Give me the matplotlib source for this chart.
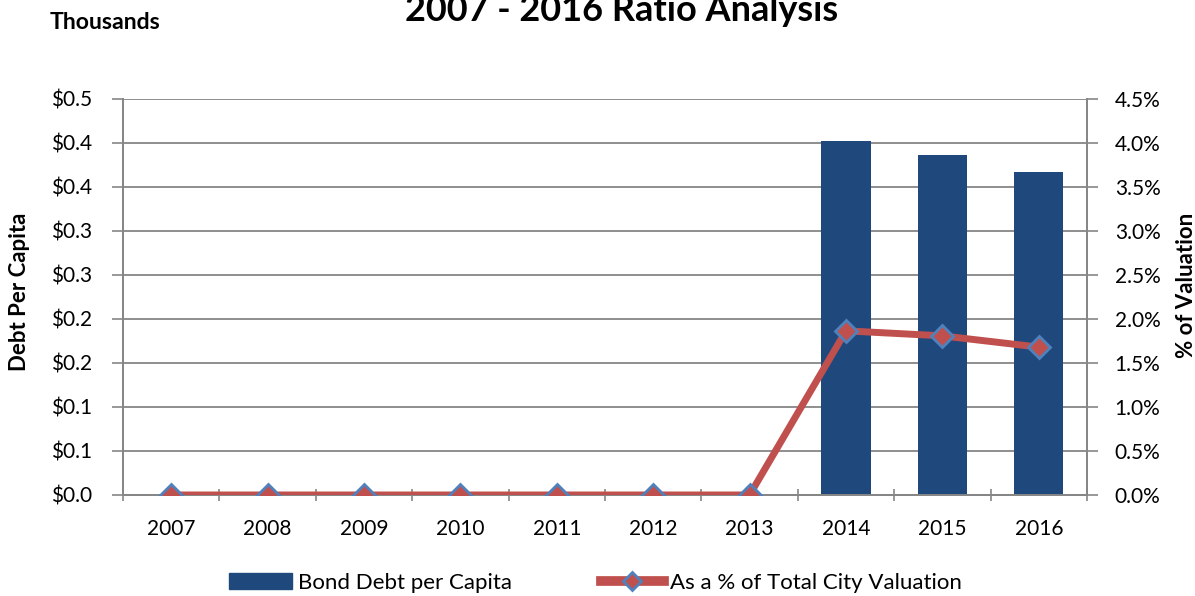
import math
import matplotlib.pyplot as plt
from matplotlib.ticker import FuncFormatter, MultipleLocator

plt.rcParams['font.family'] = ['Lato', 'DejaVu Sans']

years = ['2007', '2008', '2009', '2010', '2011', '2012', '2013', '2014', '2015', '2016']
debt_per_capita = [0, 0, 0, 0, 0, 0, 0, 0.402, 0.386, 0.367]   # thousands of dollars
pct_valuation = [0, 0, 0, 0, 0, 0, 0, 1.865, 1.808, 1.68]      # percent

bar_color = '#1F497D'
line_color = '#C0504D'
marker_edge = '#4F81BD'
axis_gray = '#868686'


def dollars(v, pos):
    # one decimal, halves rounded up
    return '$%.1f' % (math.floor(v * 10 + 0.5 + 1e-9) / 10)


fig = plt.figure(figsize=(11.95, 5.96), dpi=100)
ax = fig.add_axes([0.103, 0.1695, 0.8066, 0.6645])
ax2 = ax.twinx()

x = list(range(len(years)))
ax.bar(x, debt_per_capita, width=0.51, color=bar_color, zorder=2)
ax2.plot(x, pct_valuation, color=line_color, lw=5, marker='D', ms=11,
         mfc=line_color, mec=marker_edge, mew=2, zorder=3)

ax.set_xlim(-0.5, len(years) - 0.5)
ax.set_ylim(0, 0.45)
ax2.set_ylim(0, 4.5)
ax.yaxis.set_major_locator(MultipleLocator(0.05))
ax2.yaxis.set_major_locator(MultipleLocator(0.5))
ax.yaxis.set_major_formatter(FuncFormatter(dollars))
ax2.yaxis.set_major_formatter(FuncFormatter(lambda v, p: '%.1f%%' % v))

ax.set_xticks(x)
ax.set_xticklabels(years)
ax.set_xticks([i - 0.5 for i in range(len(years) + 1)], minor=True)
ax.tick_params(axis='x', which='major', length=0, pad=17, labelsize=15)
ax.tick_params(axis='x', which='minor', length=9, direction='inout', color=axis_gray, width=1.2)
ax.tick_params(axis='y', length=8, color=axis_gray, width=1.2, labelsize=15, pad=14)
ax2.tick_params(axis='y', length=8, color=axis_gray, width=1.2, labelsize=15, pad=12)

ax.grid(axis='y', color=axis_gray, lw=1.3, zorder=0)
ax.set_axisbelow(True)
for a in (ax, ax2):
    a.spines['top'].set_visible(False)
    for s in ('left', 'right', 'bottom'):
        a.spines[s].set_color(axis_gray)
        a.spines[s].set_linewidth(1.3)

ax.set_ylabel('Debt Per Capita', fontsize=16, fontweight='bold')
ax2.set_ylabel('% of Valuation', fontsize=16, fontweight='bold', rotation=90)
ax.yaxis.set_label_coords(-0.0966, 0.513)
ax2.yaxis.set_label_coords(1.0924, 0.53)

fig.text(0.52, 1 - 21 / 596, '2007 - 2016 Ratio Analysis', ha='center', va='baseline',
         fontsize=26, fontweight='bold')
fig.text(50 / 1195, 1 - 29 / 596, 'Thousands', ha='left', va='baseline',
         fontsize=16.6, fontweight='bold')

# legend laid out below the axes
h1 = plt.Rectangle((0, 0), 1, 1, color=bar_color)
h2, = ax2.plot([], [], color=line_color, lw=7, marker='D', ms=9,
               mfc=line_color, mec=marker_edge, mew=2)
fig.legend([h1, h2], ['Bond Debt per Capita', 'As a % of Total City Valuation'],
           loc='center', bbox_to_anchor=(0.498, 1 - 583 / 596), ncol=2, frameon=False,
           fontsize=16, handlelength=2.85, handletextpad=0.25, columnspacing=4)

fig.savefig('out.png', dpi=100)
